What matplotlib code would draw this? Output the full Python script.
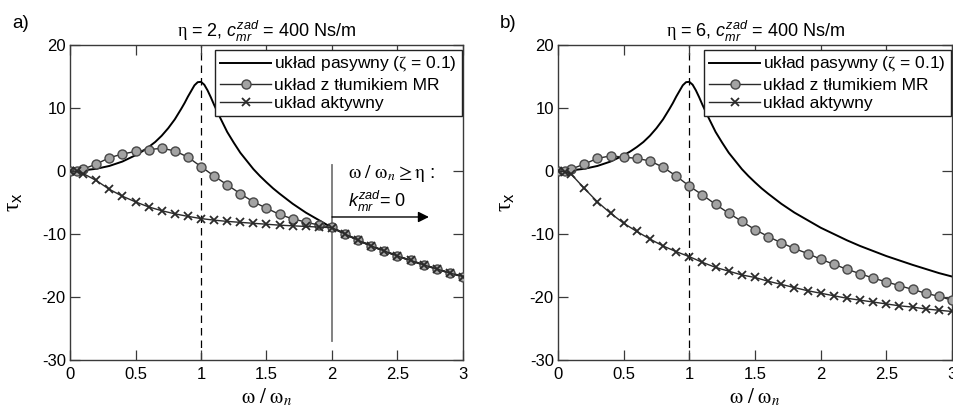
import matplotlib
matplotlib.use('Agg')
import matplotlib.pyplot as plt
from matplotlib.lines import Line2D

plt.rcParams['font.family'] = ['Liberation Sans', 'DejaVu Sans']
plt.rcParams['mathtext.fontset'] = 'custom'
plt.rcParams['mathtext.rm'] = 'Liberation Serif'
plt.rcParams['mathtext.it'] = 'Liberation Sans:italic'
plt.rcParams['mathtext.sf'] = 'Liberation Sans'
plt.rcParams['mathtext.bf'] = 'Liberation Sans:bold'

# ---- data ----
x_passive = [0.0, 0.1, 0.2, 0.3, 0.4, 0.5, 0.55, 0.6, 0.65, 0.7, 0.75, 0.8, 0.85,
             0.875, 0.9, 0.925, 0.95, 0.975, 1.0, 1.025, 1.05, 1.075, 1.1, 1.125,
             1.15, 1.2, 1.25, 1.3, 1.35, 1.4, 1.45, 1.5, 1.55, 1.6, 1.65, 1.7, 1.8,
             1.9, 2.0, 2.1, 2.2, 2.3, 2.4, 2.5, 2.6, 2.7, 2.8, 2.9, 3.0]
y_passive = [0.0, 0.1, 0.35, 0.8, 1.5, 2.5, 3.1, 3.8, 4.6, 5.6, 6.8, 8.2, 9.9,
             10.8, 11.8, 12.7, 13.6, 14.1, 14.15, 13.7, 12.8, 11.7, 10.5, 9.4,
             8.3, 6.2, 4.5, 2.9, 1.6, 0.3, -0.8, -1.8, -2.75, -3.6, -4.4, -5.2, -6.6,
             -7.8, -9.0, -10.0, -11.0, -11.9, -12.7, -13.5, -14.2, -14.9, -15.55, -16.2, -16.75]

x_pts = [0.0, 0.05, 0.1, 0.2, 0.3, 0.4, 0.5, 0.6, 0.7, 0.8, 0.9, 1.0, 1.1, 1.2,
         1.3, 1.4, 1.5, 1.6, 1.7, 1.8, 1.9, 2.0, 2.1, 2.2, 2.3, 2.4, 2.5, 2.6,
         2.7, 2.8, 2.9, 3.0]

mr_a = [0.0, 0.05, 0.3, 1.1, 2.1, 2.7, 3.1, 3.4, 3.6, 3.2, 2.2, 0.7, -0.8, -2.2,
        -3.6, -4.9, -5.9, -6.9, -7.6, -8.1, -8.6, -8.9, -10.0, -11.0, -11.9, -12.7,
        -13.5, -14.2, -14.9, -15.55, -16.2, -16.75]
act_a = [0.0, -0.05, -0.4, -1.5, -2.9, -4.0, -4.9, -5.7, -6.3, -6.8, -7.2, -7.55,
         -7.8, -8.0, -8.15, -8.3, -8.45, -8.6, -8.7, -8.8, -8.9, -9.0, -10.0, -11.0,
         -11.9, -12.7, -13.5, -14.2, -14.9, -15.55, -16.2, -16.75]

mr_b = [0.0, 0.05, 0.3, 1.1, 2.0, 2.4, 2.2, 2.0, 1.6, 0.6, -0.8, -2.4, -3.8, -5.3,
        -6.7, -8.0, -9.3, -10.4, -11.4, -12.3, -13.1, -14.0, -14.8, -15.6, -16.3,
        -17.0, -17.6, -18.2, -18.8, -19.4, -19.9, -20.5]
act_b = [0.0, -0.1, -0.5, -2.75, -4.9, -6.7, -8.3, -9.6, -10.8, -11.9, -12.8, -13.6,
         -14.5, -15.3, -15.9, -16.5, -16.9, -17.5, -18.0, -18.5, -19.0, -19.4, -19.8,
         -20.2, -20.5, -20.8, -21.1, -21.4, -21.6, -21.9, -22.1, -22.3]

x_ticks = [0, 0.5, 1, 1.5, 2, 2.5, 3]
x_tick_labels = ['0', '0.5', '1', '1.5', '2', '2.5', '3']
y_ticks = [-30, -20, -10, 0, 10, 20]
y_tick_labels = ['-30', '-20', '-10', '0', '10', '20']

panel_labels = ['a)', 'b)']
titles = [r'$\mathrm{\eta}$ = 2, $c_{mr}^{zad}$ = 400 Ns/m',
          r'$\mathrm{\eta}$ = 6, $c_{mr}^{zad}$ = 400 Ns/m']
legend_labels = [r'układ pasywny ($\mathrm{\zeta}$ = 0.1)',
                 'układ z tłumikiem MR',
                 'układ aktywny']

# ---- figure ----
fig = plt.figure(figsize=(9.54, 4.07), dpi=100)
W, H = 954, 407
axA = fig.add_axes([70 / W, (H - 360) / H, 393 / W, 315 / H])
axB = fig.add_axes([558 / W, (H - 360) / H, 394 / W, 315 / H])

spine_col = '#3a3a3a'
mr_style = dict(marker='o', ms=6.5, mfc='#a3a3a3', mec='#484848', mew=1.0,
                color='#2a2a2a', lw=1.0)
act_style = dict(marker='x', ms=6, mew=1.3, color='#2a2a2a', lw=1.0)

for i, (ax, mr, act) in enumerate([(axA, mr_a, act_a), (axB, mr_b, act_b)]):
    ax.axvline(1.0, color='k', lw=0.9, ls=(0, (6, 4)), zorder=1)
    ax.plot(x_passive, y_passive, color='k', lw=1.4, zorder=2)
    ax.plot(x_pts, mr, zorder=3, **mr_style)
    ax.plot(x_pts, act, zorder=4, **act_style)

    ax.set_xlim(0, 3)
    ax.set_ylim(-30, 20)
    ax.set_xticks(x_ticks)
    ax.set_xticklabels(x_tick_labels)
    ax.set_yticks(y_ticks)
    ax.set_yticklabels(y_tick_labels)
    ax.tick_params(direction='in', top=True, right=True, length=7, width=0.9,
                   color=spine_col, labelsize=12, pad=5)
    ax.tick_params(axis='y', pad=3)
    for s in ax.spines.values():
        s.set_color(spine_col)
        s.set_linewidth(1.0)

    ax.set_title(titles[i], fontsize=13, pad=6)
    ax.set_xlabel(r'$\mathrm{\omega}\ /\ \mathrm{\omega}_{n}$', fontsize=15,
                  math_fontfamily='stix')
    ax.xaxis.set_label_coords(0.5, -0.085)
    ax.set_ylabel(r'$\mathrm{\tau}_{\mathsf{x}}$', fontsize=17)

    handles = [Line2D([], [], color='k', lw=1.4),
               Line2D([], [], **mr_style),
               Line2D([], [], **act_style)]
    leg = ax.legend(handles, legend_labels, loc='upper right',
                    bbox_to_anchor=(0.997, 0.984), borderaxespad=0,
                    fontsize=12.5, handlelength=2.9, handletextpad=0.2,
                    labelspacing=0.19, borderpad=0.3, fancybox=False,
                    framealpha=1, edgecolor='#222222')
    leg.get_frame().set_linewidth(1.0)

axA.yaxis.set_label_coords(-0.115, 0.5)
axB.yaxis.set_label_coords(-0.105, 0.5)

# annotation in panel a
axA.plot([2, 2], [-27, 1], color='#777777', lw=1.3, zorder=1)
axA.annotate('', xy=(2.74, -7.3), xytext=(2.0, -7.3),
             arrowprops=dict(arrowstyle='-|>', color='k', lw=1.0,
                             mutation_scale=16, shrinkA=0, shrinkB=0))
axA.text(2.12, -0.4, r'$\mathrm{\omega}\ /\ \mathrm{\omega}_{n} \geq \mathrm{\eta}$ :',
         fontsize=14, math_fontfamily='stix', va='center', ha='left')
axA.text(2.12, -4.9, r'$k_{mr}^{zad}$= 0', fontsize=13, va='center', ha='left')

fig.text(12 / W, 1 - 24 / H, panel_labels[0], fontsize=13.5, va='center', ha='left')
fig.text(500 / W, 1 - 24 / H, panel_labels[1], fontsize=13.5, va='center', ha='left')

fig.savefig('out.png', dpi=100)
